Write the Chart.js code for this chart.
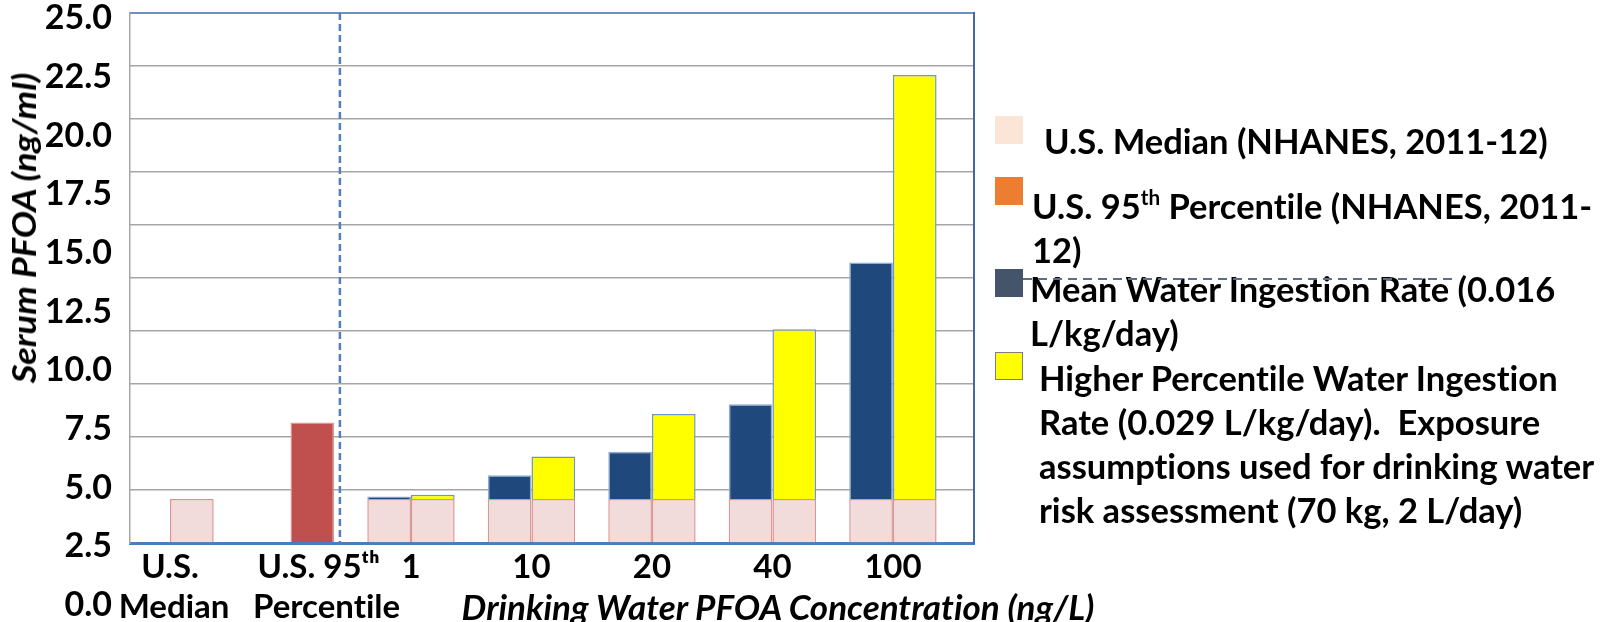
<!DOCTYPE html>
<html>
<head>
<meta charset="utf-8">
<title>Serum PFOA by drinking water concentration</title>
<script src="https://cdn.jsdelivr.net/npm/chart.js@4.4.1/dist/chart.umd.min.js"></script>
<style>
  body { margin: 0; background: #fff; }
  .wrap { position: relative; width: 1613px; height: 622px; font-family: Lato, sans-serif; font-weight: bold; color: #000;
          font-variant-ligatures: none; font-feature-settings: "liga" 0; }
  .wrap canvas { position: absolute; left: 0; top: 0; }
  .ytitle { position: absolute; left: 24px; top: 228px; transform: translate(-50%, -50%) rotate(-90deg) scaleX(1.13); font-style: italic; font-size: 32px; line-height: 1; white-space: nowrap; }
  .xtitle { position: absolute; left: 778px; top: 606px; transform: translate(-50%, -50%); font-style: italic; font-size: 35px; line-height: 1; white-space: nowrap; }
  .swatch { position: absolute; left: 995px; width: 28px; height: 28px; box-sizing: border-box; }
  .ltext { position: absolute; font-size: 34.5px; line-height: 44px; white-space: pre; }
  .ltext sup { font-size: 0.6em; line-height: 0; vertical-align: 0.7em; }
  .dashline { position: absolute; left: 1023px; top: 278px; width: 435px; height: 2px;
              background: repeating-linear-gradient(to right, #5a6f8f 0 9px, transparent 9px 15px); }
</style>
</head>
<body>
<div class="wrap">
  <canvas id="chart" width="1613" height="622"></canvas>
  <div class="ytitle">Serum PFOA (ng/ml)</div>
  <div class="xtitle">Drinking Water PFOA Concentration (ng/L)</div>
  <div id="legend"></div>
</div>
<script>
// categories (x positions are the category index)
// the 95th label sits a little right of its bar in the original, hence the leading spaces
const xLabels = [['U.S.', ' Median'], ['       U.S. 95ᵗʰ', '         Percent\u200cile'], '1', '10', '20', '40', '100'];
const xPositions = [0, 1, 2, 3, 4, 5, 6];

// serum PFOA, ng/ml
const nationalMedian = [2.08, null, null, null, null, null, null];
const national95th = [null, 5.68, null, null, null, null, null];
const medianBase = [null, null, 2.08, 2.08, 2.08, 2.08, 2.08];
const meanRateAdded = [null, null, 0.11, 1.12, 2.23, 4.46, 11.15];
const higherRateAdded = [null, null, 0.2, 2.0, 4.0, 8.0, 20.0];

// y tick labels as printed (they sit off the gridlines in the original)
const yTickLabels = [0, 2.5, 5, 7.5, 10, 12.5, 15, 17.5, 20, 22.5, 25];

// where the dashed separator sits between the national and modelled bars
const dividerAt = 1.41;

const legendItems = [
  { color: '#fbe5d6', top: 116, left: 1044, textTop: 119, html: 'U.S. Median (NHANES, 2011-12)' },
  { color: '#ed7d31', top: 177, left: 1032, textTop: 184, html: 'U.S. 95<sup>th</sup> Percentile (NHANES, 2011-\n12)' },
  { color: '#44546a', top: 269, left: 1030, textTop: 267, html: 'Mean Water Ingestion Rate (0.016\nL/kg/day)' },
  { color: '#ffff00', top: 352, left: 1039, textTop: 356, border: '1.5px solid #7f7f7f',
    html: 'Higher Percentile Water Ingestion\nRate (0.029 L/kg/day).  Exposure\nassumptions used for drinking water\nrisk assessment (70 kg, 2 L/day)' }
];

function toXY(values) {
  return values.map((v, i) => ({ x: xPositions[i], y: v }));
}

function buildLegend() {
  const box = document.getElementById('legend');
  legendItems.forEach(item => {
    const sw = document.createElement('div');
    sw.className = 'swatch';
    sw.style.top = item.top + 'px';
    sw.style.background = item.color;
    if (item.border) sw.style.border = item.border;
    box.appendChild(sw);

    const txt = document.createElement('div');
    txt.className = 'ltext';
    txt.style.left = item.left + 'px';
    txt.style.top = item.textTop + 'px';
    txt.innerHTML = item.html;
    box.appendChild(txt);
  });
  // stray dashed line that crosses the third legend entry
  const dash = document.createElement('div');
  dash.className = 'dashline';
  box.appendChild(dash);
}

// keep the plot frame exactly where afterFit puts it
function noPadding(s) {
  s.paddingTop = 0;
  s.paddingBottom = 0;
  s.paddingLeft = 0;
  s.paddingRight = 0;
}

const dividerPlugin = {
  id: 'divider',
  afterDatasetsDraw(chart) {
    const { ctx, chartArea, scales } = chart;
    const x = scales.x.getPixelForValue(dividerAt);
    ctx.save();
    ctx.strokeStyle = '#4f81bd';
    ctx.lineWidth = 2.5;
    ctx.setLineDash([7, 4]);
    ctx.beginPath();
    ctx.moveTo(x, chartArea.top);
    ctx.lineTo(x, chartArea.bottom + 2);
    ctx.stroke();
    ctx.restore();
  }
};

const tickFont = { family: 'Lato', weight: 'bold' };
const pinkBar = { backgroundColor: '#f2dcdb', borderColor: '#d99694', borderWidth: 1.5 };
const onAxes = { xAxisID: 'x', yAxisID: 'y' };

new Chart(document.getElementById('chart'), {
  type: 'bar',
  data: {
    datasets: [
      { label: 'Median base', data: toXY(medianBase), stack: 'left', ...pinkBar, ...onAxes },
      { label: 'Mean Water Ingestion Rate (0.016 L/kg/day)', data: toXY(meanRateAdded), stack: 'left',
        backgroundColor: '#1f497d', borderColor: '#8fa9cf', borderWidth: 1.5, ...onAxes },
      { label: 'U.S. Median (NHANES, 2011-12)', data: toXY(nationalMedian), stack: 'right', ...pinkBar, ...onAxes },
      { label: 'Median base', data: toXY(medianBase), stack: 'right', ...pinkBar, ...onAxes },
      { label: 'U.S. 95th Percentile (NHANES, 2011-12)', data: toXY(national95th), stack: 'right',
        backgroundColor: '#c0504d', borderColor: '#d99694', borderWidth: 1.5, ...onAxes },
      { label: 'Higher Percentile Water Ingestion Rate (0.029 L/kg/day)', data: toXY(higherRateAdded), stack: 'right',
        backgroundColor: '#ffff00', borderColor: '#6f95c8', borderWidth: 1.5, ...onAxes }
    ]
  },
  options: {
    responsive: false,
    animation: false,
    categoryPercentage: 0.725,
    barPercentage: 1,
    layout: { padding: 0 },
    plugins: {
      legend: { display: false },
      tooltip: { enabled: false }
    },
    scales: {
      x: {
        type: 'linear',
        position: 'bottom',
        min: -0.332,
        max: 6.673,
        offset: false,
        grid: { display: false, drawTicks: false },
        border: { color: '#4a7ebb', width: 3 },
        ticks: {
          stepSize: 1,
          includeBounds: false,
          autoSkip: false,
          maxRotation: 0,
          padding: 4,
          color: '#000',
          font: { ...tickFont, size: 33, lineHeight: 1.22 },
          callback: v => xLabels[v]
        },
        afterFit: s => { s.height = 79; noPadding(s); }
      },
      xTop: {
        type: 'linear',
        position: 'top',
        grid: { display: false, drawTicks: false },
        border: { color: '#6f8fc0', width: 2 },
        ticks: { display: false },
        afterFit: s => { s.height = 13; noPadding(s); }
      },
      yl: {
        type: 'linear',
        position: 'left',
        min: 2.647,
        max: 25.235,
        grid: { display: false, drawTicks: false },
        border: { color: '#a6a6a6', width: 1.5 },
        afterBuildTicks: s => { s.ticks = yTickLabels.map(v => ({ value: v })); },
        ticks: {
          autoSkip: false,
          padding: 18,
          color: '#000',
          font: { ...tickFont, size: 34 },
          callback: v => v.toFixed(1)
        },
        afterFit: s => { s.width = 130; noPadding(s); }
      },
      y: {
        type: 'linear',
        position: 'left',
        stacked: true,
        min: 0,
        max: 25,
        grid: { color: '#a6a6a6', lineWidth: 1.5, drawTicks: false },
        border: { display: false },
        ticks: { display: false, stepSize: 2.5 },
        afterFit: s => { s.width = 0; noPadding(s); }
      },
      yr: {
        type: 'linear',
        position: 'right',
        grid: { display: false, drawTicks: false },
        border: { color: '#3f6aa8', width: 2 },
        ticks: { display: false },
        afterFit: s => { s.width = 639; noPadding(s); }
      }
    }
  },
  plugins: [dividerPlugin]
});

buildLegend();
</script>
</body>
</html>
